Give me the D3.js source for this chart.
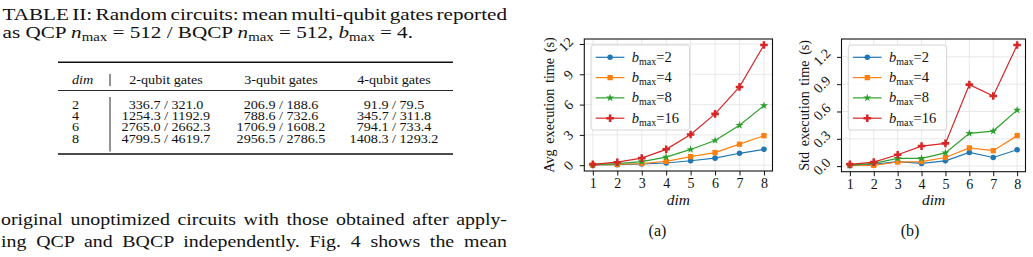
<!DOCTYPE html>
<html>
<head>
<meta charset="utf-8">
<script src="https://cdn.jsdelivr.net/npm/d3@7"></script>
<style>
body { margin: 0; background: #fff; }
svg { display: block; }
text { font-family: "Liberation Serif", "DejaVu Serif", serif; fill: #111; }
</style>
</head>
<body>
<div id="page"></div>
<script>
// ---- data ----
var dims = [1, 2, 3, 4, 5, 6, 7, 8];
var bmaxValues = ["2", "4", "8", "16"];

var avgB2  = [0.02, 0.05, 0.12, 0.22, 0.44, 0.70, 1.18, 1.57];
var avgB4  = [0.03, 0.07, 0.17, 0.38, 0.85, 1.25, 2.08, 2.92];
var avgB8  = [0.05, 0.15, 0.36, 0.80, 1.56, 2.45, 3.95, 5.90];
var avgB16 = [0.08, 0.30, 0.70, 1.57, 3.04, 5.08, 7.75, 11.90];

var stdB2  = [0.005, 0.020, 0.050, 0.030, 0.058, 0.150, 0.095, 0.180];
var stdB4  = [0.010, 0.008, 0.045, 0.050, 0.095, 0.200, 0.170, 0.335];
var stdB8  = [0.010, 0.030, 0.085, 0.085, 0.145, 0.360, 0.385, 0.615];
var stdB16 = [0.020, 0.044, 0.125, 0.220, 0.250, 0.895, 0.770, 1.330];

var avgTicks = [0, 3, 6, 9, 12];
var stdTicks = [0.0, 0.3, 0.6, 0.9, 1.2];

var tableDims = ["2", "4", "6", "8"];
var tableHeaders = ["2-qubit gates", "3-qubit gates", "4-qubit gates"];
var gates2q = ["336.7 / 321.0", "1254.3 / 1192.9", "2765.0 / 2662.3", "4799.5 / 4619.7"];
var gates3q = ["206.9 / 188.6", "788.6 / 732.6", "1706.9 / 1608.2", "2956.5 / 2786.5"];
var gates4q = ["91.9 / 79.5", "345.7 / 311.8", "794.1 / 733.4", "1408.3 / 1293.2"];

var colors = ["#1f77b4", "#ff7f0e", "#2ca02c", "#d62728"];
var symbols = [d3.symbolCircle, d3.symbolSquare, d3.symbolStar, d3.symbolCross];
var symSizes = [24, 28, 20, 32];

var svg = d3.select("#page").append("svg")
    .attr("width", 1033)
    .attr("height", 257);

// ---- text helpers ----
// the scanned page is a bit wider than tall, so text gets a horizontal stretch
function addLine(x, y, size, k, segs, rightEdge) {
    var g = svg.append("g").attr("transform", "translate(" + x + "," + y + ") scale(" + k + ",1)");
    var t = g.append("text").attr("font-size", size).style("white-space", "pre");
    var off = size * 0.22, wasSub = false;
    segs.forEach(function (s) {
        var ts = t.append("tspan").text(s.t);
        if (s.it) ts.attr("font-style", "italic");
        if (s.sub) ts.attr("font-size", size * 0.7);
        if (s.sub && !wasSub) ts.attr("dy", off);
        if (!s.sub && wasSub) ts.attr("dy", -off);
        wasSub = !!s.sub;
    });
    if (rightEdge) {
        var full = segs.map(function (s) { return s.t; }).join("");
        var n = full.split(" ").length - 1;
        var natural = t.node().getComputedTextLength();
        t.style("word-spacing", (((rightEdge - x) / k - natural) / n) + "px");
    }
    return t;
}

// ---- caption + table ----
var colRight = 507;
var capSize = 17.5, capK = 1.21;
addLine(2.5, 19.5, capSize, capK, [{t: "TABLE II: Random circuits: mean multi-qubit gates reported"}], colRight);
addLine(2.5, 37.5, capSize, capK, [
    {t: "as QCP "}, {t: "n", it: true}, {t: "max", sub: true}, {t: " = 512 / BQCP "},
    {t: "n", it: true}, {t: "max", sub: true}, {t: " = 512, "},
    {t: "b", it: true}, {t: "max", sub: true}, {t: " = 4."}
]);

var tbl = {left: 58, right: 453, top: 62.3, mid: 90.5, bottom: 154, vbar: 110};
svg.append("line").attr("x1", tbl.left).attr("x2", tbl.right).attr("y1", tbl.top).attr("y2", tbl.top)
    .attr("stroke", "#111").attr("stroke-width", 1.4);
svg.append("line").attr("x1", tbl.left).attr("x2", tbl.right).attr("y1", tbl.mid).attr("y2", tbl.mid)
    .attr("stroke", "#111").attr("stroke-width", 0.9);
svg.append("line").attr("x1", tbl.left).attr("x2", tbl.right).attr("y1", tbl.bottom).attr("y2", tbl.bottom)
    .attr("stroke", "#111").attr("stroke-width", 1.4);
svg.append("line").attr("x1", tbl.vbar).attr("x2", tbl.vbar).attr("y1", 74).attr("y2", 86)
    .attr("stroke", "#111").attr("stroke-width", 0.9);
svg.append("line").attr("x1", tbl.vbar).attr("x2", tbl.vbar).attr("y1", 97).attr("y2", 151.5)
    .attr("stroke", "#111").attr("stroke-width", 0.9);

var tsx = 1.18, tfs = 12;
var colCenters = [166, 281, 394];
var rowY = d3.scalePoint().domain(tableDims).range([108.8, 142.8]);

function tableCell(x, y, str, anchor, italic) {
    var g = svg.append("g").attr("transform", "translate(" + x + "," + y + ") scale(" + tsx + ",1)");
    g.append("text").attr("font-size", tfs).attr("text-anchor", anchor)
        .attr("font-style", italic ? "italic" : null).text(str);
}
tableCell(72, 83.8, "dim", "start", true);
tableHeaders.forEach(function (h, i) { tableCell(colCenters[i], 83.8, h, "middle"); });
tableDims.forEach(function (d, r) {
    tableCell(72, rowY(d), d, "start");
    [gates2q, gates3q, gates4q].forEach(function (col, i) {
        tableCell(colCenters[i], rowY(d), col[r], "middle");
    });
});

// ---- body text ----
addLine(1, 225, 17, 1.17, [{t: "original unoptimized circuits with those obtained after apply-"}], colRight);
addLine(1, 246.7, 17, 1.17, [{t: "ing QCP and BQCP independently. Fig. 4 shows the mean"}], colRight);

// ---- charts ----
function drawPanel(p) {
    var x = d3.scaleLinear().domain([dims[0] - 0.35, dims[dims.length - 1] + 0.35])
        .range([p.left, p.right]);
    var all = d3.merge(p.series);
    var lo = d3.min(all), hi = d3.max(all), pad = (hi - lo) * 0.05;
    var y = d3.scaleLinear().domain([lo - pad, hi + pad]).range([p.bottom, p.top]);
    var w = p.right - p.left, h = p.bottom - p.top;

    // grid
    var grid = svg.append("g").attr("stroke", "#e2e2e2").attr("stroke-width", 0.8);
    grid.selectAll(".gx").data(dims).join("line")
        .attr("x1", x).attr("x2", x).attr("y1", p.top).attr("y2", p.bottom);
    grid.selectAll(".gy").data(p.ticks).join("line")
        .attr("y1", y).attr("y2", y).attr("x1", p.left).attr("x2", p.right);

    // axes
    var xa = svg.append("g").attr("transform", "translate(0," + p.bottom + ")")
        .call(d3.axisBottom(x).tickValues(dims).tickSize(4.5).tickPadding(3).tickFormat(d3.format("d")));
    xa.select(".domain").remove();
    xa.selectAll("text").attr("font-size", 14).attr("font-family", "Liberation Serif").attr("fill", "#111");
    xa.selectAll("line").attr("stroke", "#111");

    var ya = svg.append("g").attr("transform", "translate(" + p.left + ",0)")
        .call(d3.axisLeft(y).tickValues(p.ticks).tickSize(4.5).tickFormat(p.fmt));
    ya.select(".domain").remove();
    ya.selectAll("line").attr("stroke", "#111");
    ya.selectAll("text").each(function () {
        var t = d3.select(this)
            .attr("font-size", 14).attr("font-family", "Liberation Serif").attr("fill", "#111")
            .attr("text-anchor", "middle").attr("dy", null).attr("dominant-baseline", "central")
            .attr("x", 0);
        var b = this.getBBox();
        var cx = -4.5 - 3.5 - (b.width + b.height) * 0.7071 / 2;
        t.attr("x", cx).attr("transform", "rotate(-45," + cx + ",0)");
    });

    // lines + markers
    p.series.forEach(function (vals, i) {
        svg.append("path").datum(vals)
            .attr("fill", "none").attr("stroke", colors[i]).attr("stroke-width", 1.2)
            .attr("d", d3.line().x(function (d, j) { return x(dims[j]); }).y(function (d) { return y(d); }));
        svg.append("g").selectAll("path").data(vals).join("path")
            .attr("transform", function (d, j) { return "translate(" + x(dims[j]) + "," + y(d) + ")"; })
            .attr("d", d3.symbol().type(symbols[i]).size(symSizes[i]))
            .attr("fill", colors[i]);
    });

    // frame
    svg.append("rect").attr("x", p.left).attr("y", p.top).attr("width", w).attr("height", h)
        .attr("fill", "none").attr("stroke", "#111").attr("stroke-width", 1.1);

    // legend
    var lg = svg.append("g").attr("transform", "translate(" + (p.left + 6.8) + "," + (p.top + 6) + ")");
    lg.append("rect").attr("width", 98.4).attr("height", 85).attr("rx", 2.5)
        .attr("fill", "#fff").attr("fill-opacity", 0.8).attr("stroke", "#d0d0d0").attr("stroke-width", 0.9);
    bmaxValues.forEach(function (b, i) {
        var yy = 12.3 + i * 20.3;
        lg.append("line").attr("x1", 4.6).attr("x2", 33.3).attr("y1", yy).attr("y2", yy)
            .attr("stroke", colors[i]).attr("stroke-width", 1.2);
        lg.append("path").attr("transform", "translate(19," + yy + ")")
            .attr("d", d3.symbol().type(symbols[i]).size(symSizes[i])).attr("fill", colors[i]);
        var t = lg.append("text").attr("x", 40.7).attr("y", yy + 4.5).attr("font-size", 14.5);
        t.append("tspan").attr("font-style", "italic").text("b");
        t.append("tspan").attr("font-size", 10).attr("dy", 3).text("max");
        t.append("tspan").attr("dy", -3).text("=" + b);
    });

    // labels
    svg.append("text").attr("transform", "translate(" + p.ylabX + "," + ((p.top + p.bottom) / 2) + ") rotate(-90)")
        .attr("text-anchor", "middle").attr("font-size", 14.2).style("word-spacing", "2px").text(p.ylabel);
    svg.append("text").attr("x", (p.left + p.right) / 2).attr("y", 205)
        .attr("text-anchor", "middle").attr("font-size", 15.5).attr("font-style", "italic").text("dim");
    svg.append("text").attr("x", p.capX).attr("y", 236)
        .attr("text-anchor", "middle").attr("font-size", 16).text(p.caption);
}

drawPanel({
    left: 584.3, right: 772.5, top: 39, bottom: 171,
    series: [avgB2, avgB4, avgB8, avgB16], ticks: avgTicks, fmt: d3.format("d"),
    ylabel: "Avg execution time (s)", ylabX: 553.5, caption: "(a)", capX: 657.5
});
drawPanel({
    left: 841.5, right: 1025.5, top: 39, bottom: 171.7,
    series: [stdB2, stdB4, stdB8, stdB16], ticks: stdTicks, fmt: d3.format(".1f"),
    ylabel: "Std execution time (s)", ylabX: 808.5, caption: "(b)", capX: 910
});
</script>
</body>
</html>
